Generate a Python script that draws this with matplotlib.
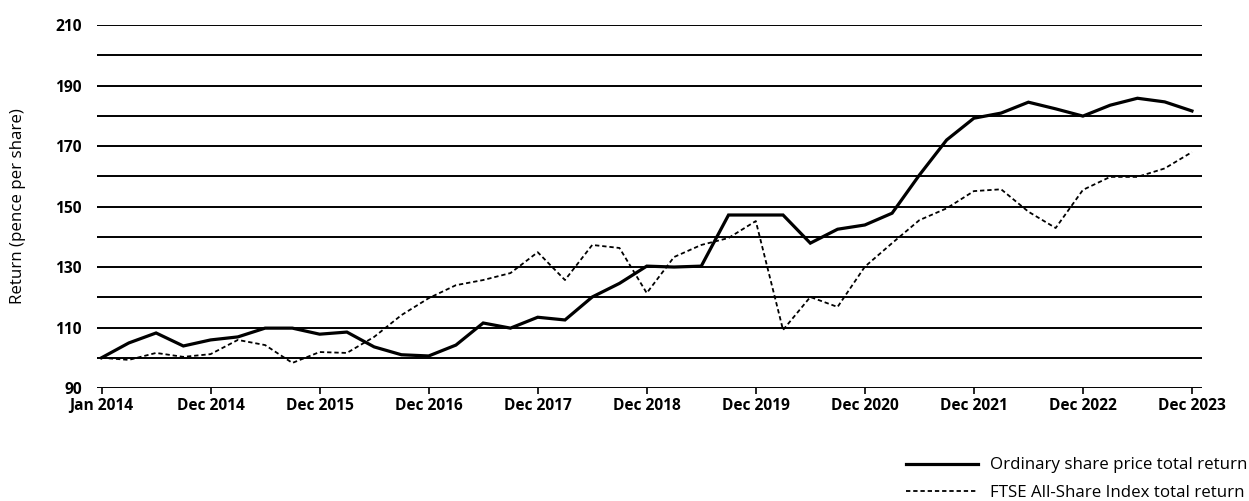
"""Ordinary share price total return against the FTSE All-Share Index."""

from __future__ import annotations

import matplotlib.pyplot as plt
import numpy as np

plt.switch_backend("Agg")

# quarterly points, Jan 2014 .. Dec 2023 (41 values)
share_price_return = [
    100.0, 104.9, 108.2, 103.9, 105.9, 106.9, 109.8, 109.8, 107.8, 108.5,
    103.6, 101.0, 100.6, 104.2, 111.5, 109.8, 113.4, 112.5, 120.1, 124.6,
    130.3, 130.0, 130.3, 147.2, 147.2, 147.2, 137.9, 142.5, 143.9, 147.8,
    160.4, 172.0, 179.2, 180.9, 184.5, 182.3, 179.9, 183.5, 185.8, 184.6,
    181.6,
]
ftse_all_share_return = [
    100.0, 99.3, 101.6, 100.3, 101.2, 105.9, 104.2, 98.3, 101.9, 101.6,
    106.9, 114.1, 119.7, 124.0, 125.7, 128.0, 134.9, 125.7, 137.3, 136.3,
    121.4, 133.3, 137.3, 139.6, 145.2, 109.2, 120.1, 116.8, 130.1, 137.9,
    145.5, 149.4, 155.1, 155.7, 148.3, 142.9, 155.5, 159.8, 159.8, 162.6,
    168.0,
]
tick_labels = [
    "Jan 2014", "Dec 2014", "Dec 2015", "Dec 2016", "Dec 2017", "Dec 2018",
    "Dec 2019", "Dec 2020", "Dec 2021", "Dec 2022", "Dec 2023",
]
y_labelled = [90, 110, 130, 150, 170, 190, 210]
y_grid = list(range(90, 211, 10))

plt.rcParams["font.family"] = ["Open Sans", "DejaVu Sans"]

figure = plt.figure(figsize=(12.49, 5.01), dpi=100)
axis = figure.add_axes([0.0777, 0.2255, 0.8847, 0.7245])

quarters = np.arange(len(share_price_return))
for level in y_grid:
    axis.axhline(level, color="black", linewidth=1.4, zorder=1)

axis.plot(quarters, share_price_return, color="black", linewidth=2.3,
          solid_joinstyle="miter", label="Ordinary share price total return",
          zorder=3)
axis.plot(quarters, ftse_all_share_return, color="black", linewidth=1.3,
          linestyle=(0, (2.4, 1.6)), label="FTSE All-Share Index total return",
          zorder=3)

axis.set_xlim(-0.165, 40.37)
axis.set_ylim(90, 210)
axis.set_xticks(np.arange(0, 41, 4), tick_labels, fontsize=11.2,
                fontweight="bold")
axis.set_yticks(y_labelled, [str(v) for v in y_labelled], fontsize=11.2,
                fontweight="bold")
axis.tick_params(axis="x", length=4, width=1.2, pad=3)
axis.tick_params(axis="y", length=0, pad=11)
for spine in axis.spines.values():
    spine.set_visible(False)
axis.set_ylabel("Return (pence per share)", fontsize=12.2, labelpad=21)

figure.legend(loc="lower right", bbox_to_anchor=(0.999, 0.0), frameon=False,
              fontsize=12.2, handlelength=4.25, handletextpad=0.75,
              labelspacing=0.68, borderpad=0.0, borderaxespad=0.0)

figure.savefig("out.png", dpi=100)
plt.close(figure)
